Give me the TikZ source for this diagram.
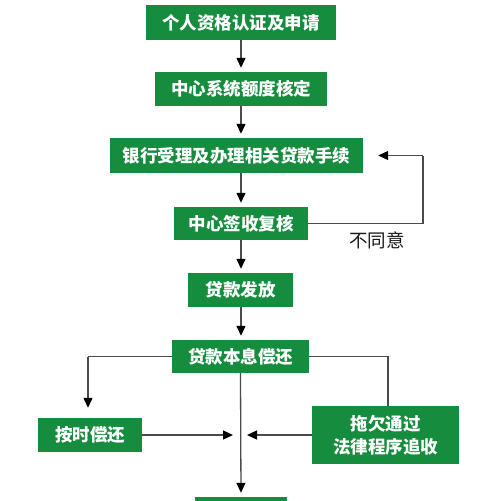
\documentclass[tikz,border=0pt]{standalone}
\usepackage{fontspec}
\newfontfamily\cjk{Noto Sans CJK SC}
\usetikzlibrary{arrows.meta}
\definecolor{boxgreen}{RGB}{22,140,62}
\definecolor{linegray}{RGB}{75,75,75}
\tikzset{
  gbox/.style={fill=boxgreen, text=white, inner sep=0pt, align=center,
    font=\cjk\bfseries\fontsize{17.5}{23}\selectfont},
  conn/.style={draw=linegray, line width=1.3pt},
  arr/.style={conn, -{Triangle[width=9pt,length=10pt,fill=black,color=black]}, shorten >=4pt}
}
\begin{document}
\begin{tikzpicture}[x=1pt,y=-1pt]
\useasboundingbox (0,0) rectangle (499,501);
\fill[white] (0,0) rectangle (499,501);
\node[gbox, minimum width=190pt, minimum height=35pt] (b1) at (241,22.5) {个人资格认证及申请};
\node[gbox, minimum width=172pt, minimum height=34pt] (b2) at (241,89) {中心系统额度核定};
\node[gbox, minimum width=253pt, minimum height=35pt] (b3) at (236.5,155.5) {银行受理及办理相关贷款手续};
\node[gbox, minimum width=134pt, minimum height=33pt] (b4) at (241,223.5) {中心签收复核};
\node[gbox, minimum width=105pt, minimum height=34pt] (b5) at (240.5,290) {贷款发放};
\node[gbox, minimum width=137pt, minimum height=33pt] (b6) at (240.5,356.5) {贷款本息偿还};
\node[gbox, minimum width=104pt, minimum height=34pt] (b7) at (90,435) {按时偿还};
\node[gbox, minimum width=147pt, minimum height=58pt] (b8) at (385.5,435) {拖欠通过\\法律程序追收};
\begin{scope}
\clip (0,0) rectangle (499,501);
\node[gbox, minimum width=92pt, minimum height=34pt] (b9) at (241,514) {};
\end{scope}
\node[font=\cjk\fontsize{18.5}{22}\selectfont, text=black!90, inner sep=0pt] (ny) at (377,240) {不同意};
\coordinate (r1) at (423,155.5);
\coordinate (r2) at (423,223.5);
\coordinate (l1) at (88,356.5);
\coordinate (rr) at (388,356.5);
\coordinate (m) at (241,435);
\coordinate (s1) at (241,40);
\coordinate (s2) at (241,106);
\coordinate (s3) at (241,173);
\coordinate (s4) at (241,240);
\coordinate (s5) at (241,307);
% arrows
\draw[arr] (s1) -- (s1 |- b2.north);
\draw[arr] (s2) -- (s2 |- b3.north);
\draw[arr] (s3) -- (s3 |- b4.north);
\draw[arr] (s4) -- (s4 |- b5.north);
\draw[arr] (s5) -- (s5 |- b6.north);
\draw[conn] (b4.east) -- (r2) -- (r1);
\draw[arr, shorten >=15pt] (r1) -- (b3.east);
\draw[conn] (b6.west) -- (l1);
\draw[arr, shorten >=10pt] (l1) -- (l1 |- b7.north);
\draw[conn] (b6.east) -- (rr) -- (rr |- b8.north);
\draw[arr] (b6.south) -- (b9.north);
\draw[arr, shorten >=8pt] (b7.east) -- (m);
\draw[arr, shorten >=6pt] (b8.west) -- (m);
\end{tikzpicture}
\end{document}
